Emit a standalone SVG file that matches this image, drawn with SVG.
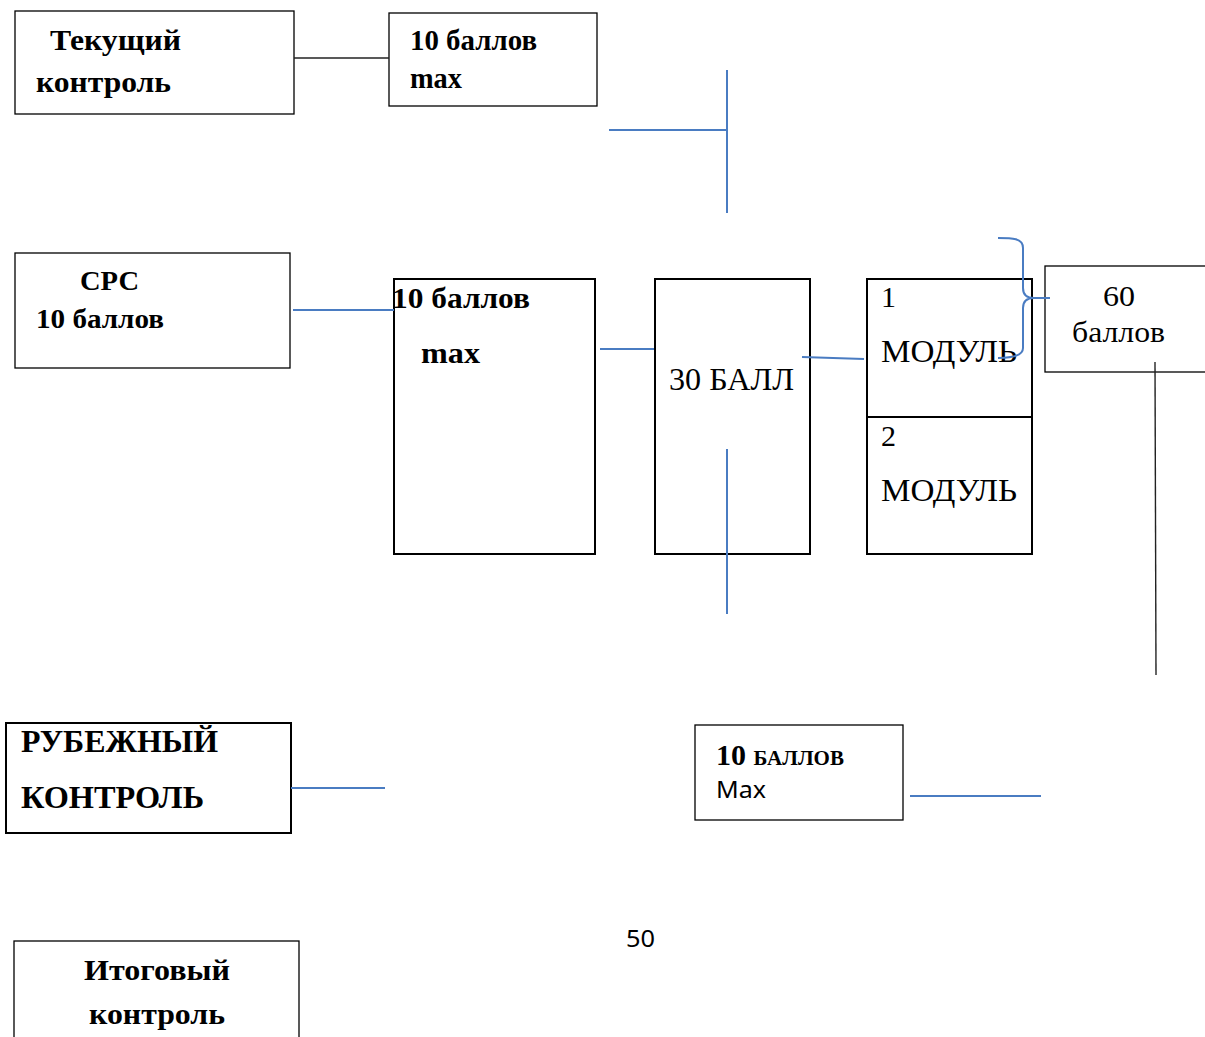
<svg xmlns="http://www.w3.org/2000/svg" width="1205" height="1037" viewBox="0 0 1205 1037">
<style>
.box{fill:#fff;stroke:#000;stroke-width:1.3}
.bx2{fill:#fff;stroke:#000;stroke-width:2}
.b{font-family:"Liberation Serif",serif;font-weight:bold;fill:#000}
.r{font-family:"Liberation Serif",serif;fill:#000}
.s{font-family:"Noto Sans","Liberation Sans",sans-serif;fill:#000}
.bl{stroke:#4a7cc2;stroke-width:2;fill:none}
.bk{stroke:#222;stroke-width:1.4;fill:none}
</style>
<rect width="1205" height="1037" fill="#fff"/>
<g id="tekushiy">
<rect class="box" x="15" y="11" width="279" height="103"/>
<text class="b" x="50" y="50" font-size="30" textLength="131" lengthAdjust="spacingAndGlyphs">Текущий</text>
<text class="b" x="36" y="92" font-size="30" textLength="135" lengthAdjust="spacingAndGlyphs">контроль</text>
</g>
<g id="ten-max-top">
<rect class="box" x="389" y="13" width="208" height="93"/>
<text class="b" x="410" y="50" font-size="29" textLength="127" lengthAdjust="spacingAndGlyphs">10 баллов</text>
<text class="b" x="410" y="88" font-size="29" textLength="52" lengthAdjust="spacingAndGlyphs">max</text>
</g>
<g id="srs">
<rect class="box" x="15" y="253" width="275" height="115"/>
<text class="b" x="80" y="290" font-size="28" textLength="59" lengthAdjust="spacingAndGlyphs">СРС</text>
<text class="b" x="36" y="328" font-size="28" textLength="128" lengthAdjust="spacingAndGlyphs">10 баллов</text>
</g>
<g id="ten-max-big">
<rect class="bx2" x="394" y="279" width="201" height="275"/>
<text class="b" x="392" y="308" font-size="30" textLength="138" lengthAdjust="spacingAndGlyphs">10 баллов</text>
<text class="b" x="421" y="363" font-size="30" textLength="59" lengthAdjust="spacingAndGlyphs">max</text>
</g>
<g id="thirty">
<rect class="bx2" x="655" y="279" width="155" height="275"/>
<text class="r" x="669" y="390" font-size="32" textLength="125" lengthAdjust="spacingAndGlyphs">30 БАЛЛ</text>
</g>
<g id="modules">
<rect class="bx2" x="867" y="279" width="165" height="275"/>
<line x1="867" y1="417" x2="1032" y2="417" stroke="#000" stroke-width="2"/>
<text class="r" x="881" y="307" font-size="30">1</text>
<text class="r" x="881" y="362" font-size="32" textLength="136" lengthAdjust="spacingAndGlyphs">МОДУЛЬ</text>
<text class="r" x="881" y="446" font-size="30">2</text>
<text class="r" x="881" y="501" font-size="32" textLength="136" lengthAdjust="spacingAndGlyphs">МОДУЛЬ</text>
</g>
<g id="sixty">
<rect class="box" x="1045" y="266" width="165" height="106"/>
<text class="r" x="1103" y="306" font-size="30" textLength="32" lengthAdjust="spacingAndGlyphs">60</text>
<text class="r" x="1072" y="342" font-size="30" textLength="93" lengthAdjust="spacingAndGlyphs">баллов</text>
</g>
<g id="rubezhny">
<rect class="bx2" x="6" y="723" width="285" height="110"/>
<text class="b" x="21" y="752" font-size="31" textLength="197" lengthAdjust="spacingAndGlyphs">РУБЕЖНЫЙ</text>
<text class="b" x="21" y="808" font-size="31" textLength="183" lengthAdjust="spacingAndGlyphs">КОНТРОЛЬ</text>
</g>
<g id="ten-max-bottom">
<rect class="box" x="695" y="725" width="208" height="95"/>
<text class="b" x="716" y="765" font-size="30"><tspan>10 </tspan><tspan font-size="21">БАЛЛОВ</tspan></text>
<text class="s" x="716" y="798" font-size="23" textLength="50" lengthAdjust="spacingAndGlyphs">Max</text>
</g>
<g id="page-num">
<text class="s" x="626" y="947" font-size="23" textLength="29" lengthAdjust="spacingAndGlyphs">50</text>
</g>
<g id="itogovy">
<rect class="box" x="14" y="941" width="285" height="110"/>
<text class="b" x="84" y="980" font-size="30" textLength="146" lengthAdjust="spacingAndGlyphs">Итоговый</text>
<text class="b" x="89" y="1024" font-size="30" textLength="136" lengthAdjust="spacingAndGlyphs">контроль</text>
</g>
<g id="connectors">
<line class="bk" x1="294" y1="58" x2="389" y2="58"/>
<line class="bl" x1="609" y1="130" x2="727" y2="130"/>
<line class="bl" x1="727" y1="70" x2="727" y2="213"/>
<line class="bl" x1="293" y1="310" x2="394" y2="310"/>
<line class="bl" x1="600" y1="349" x2="654" y2="349"/>
<line class="bl" x1="802" y1="357" x2="864" y2="359"/>
<path class="bl" d="M998,238 C1012,238 1023,238 1023,248 L1023,288 C1023,296 1028,298 1034,298 L1050,298 M1034,298 C1028,298 1023,300 1023,308 L1023,348 C1023,356 1012,358 998,358"/>
<line class="bk" x1="1155" y1="362" x2="1156" y2="675"/>
<line class="bl" x1="727" y1="449" x2="727" y2="614"/>
<line class="bl" x1="291" y1="788" x2="385" y2="788"/>
<line class="bl" x1="910" y1="796" x2="1041" y2="796"/>
</g>
</svg>
